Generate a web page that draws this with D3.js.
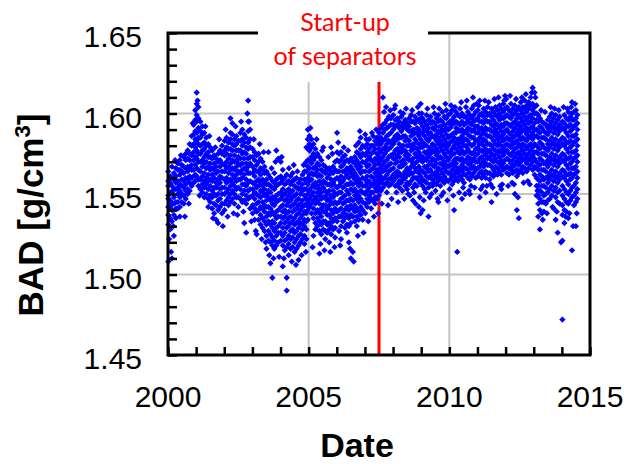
<!DOCTYPE html>
<html>
<head>
<meta charset="utf-8">
<script src="https://cdn.jsdelivr.net/npm/d3@7"></script>
<style>
  body { margin: 0; background: #fff; }
</style>
</head>
<body>
<div id="chart"></div>
<script>
// BAD readings, one row per sampling column:
// [fraction of the year, then values as thousandths above 1.500]
let bad2000 = [
  [0.01, 64, 58, 55, 49, 47, 42, 37, 31, 8], [0.08, 61, 57, 51, 46, 42, 35, 28],
  [0.14, 67, 60, 55, 51, 44, 40, 33, 10], [0.21, 63, 59, 53, 48, 44, 37, 24],
  [0.28, 66, 61, 57, 53, 45, 41, 35], [0.35, 69, 65, 58, 54, 50, 45, 41],
  [0.42, 71, 65, 62, 56, 52, 48, 42, 36], [0.49, 68, 64, 59, 55, 50, 45],
  [0.56, 73, 67, 63, 58, 54, 49, 44], [0.63, 75, 71, 66, 60, 56, 52, 47],
  [0.70, 77, 72, 67, 64, 59, 53, 50], [0.77, 81, 75, 71, 66, 61, 57, 52],
  [0.84, 86, 80, 74, 68, 65, 60, 55], [0.91, 93, 87, 81, 76, 71, 65, 61, 57],
  [0.97, 102, 96, 89, 84, 79, 73, 68, 62, 58]
]
let bad2001 = [
  [0.02, 113, 106, 99, 95, 88, 83, 77, 72, 66, 61], [0.08, 104, 97, 91, 85, 81, 75, 70, 65, 59, 55],
  [0.15, 95, 89, 85, 80, 75, 70, 64, 59, 53], [0.22, 92, 87, 81, 77, 71, 67, 61, 56, 51],
  [0.29, 88, 82, 78, 73, 69, 63, 58, 54, 48], [0.36, 85, 80, 75, 70, 66, 60, 56, 50],
  [0.43, 81, 76, 73, 67, 62, 58, 53, 47, 42], [0.50, 79, 73, 69, 65, 59, 55, 49, 45],
  [0.57, 77, 72, 66, 62, 58, 52, 48, 41], [0.64, 74, 69, 65, 60, 54, 50, 44, 38],
  [0.71, 72, 67, 63, 57, 54, 49, 43, 34], [0.78, 75, 70, 64, 59, 56, 50, 46, 40, 32],
  [0.85, 77, 71, 67, 61, 57, 53, 47, 42], [0.92, 80, 75, 69, 64, 60, 54, 50, 44, 38]
]
let bad2002 = [
  [0.01, 83, 77, 74, 68, 64, 59, 54, 50, 44, 40], [0.08, 85, 79, 75, 70, 66, 60, 57, 51, 46],
  [0.15, 82, 78, 72, 67, 63, 58, 53, 48, 43], [0.22, 97, 88, 84, 78, 74, 69, 65, 59, 55, 50, 45],
  [0.29, 94, 87, 81, 77, 71, 66, 62, 57, 52, 47], [0.36, 84, 80, 74, 70, 65, 60, 55, 50, 44],
  [0.43, 86, 81, 77, 71, 67, 62, 58, 53, 48], [0.50, 83, 77, 73, 69, 64, 59, 54, 48, 42],
  [0.57, 88, 83, 77, 72, 68, 63, 59, 53, 47], [0.64, 90, 84, 80, 75, 69, 65, 60, 56, 50, 45],
  [0.71, 87, 82, 76, 72, 66, 62, 56, 52, 46, 32], [0.78, 85, 79, 75, 69, 65, 59, 55, 49, 44, 26],
  [0.85, 108, 95, 89, 82, 78, 72, 67, 63, 57, 52, 47], [0.92, 90, 84, 79, 73, 69, 63, 58, 53, 48, 41]
]
let bad2003 = [
  [0.01, 78, 73, 67, 63, 57, 53, 49, 43, 38], [0.08, 76, 71, 65, 61, 56, 51, 47, 41, 34],
  [0.15, 74, 68, 64, 58, 54, 50, 44, 39, 25], [0.22, 75, 70, 64, 59, 55, 49, 45, 40, 34],
  [0.29, 72, 66, 62, 57, 52, 48, 42, 37, 31], [0.36, 70, 65, 59, 55, 51, 45, 41, 35, 29],
  [0.43, 67, 63, 57, 53, 49, 43, 39, 33, 27], [0.50, 64, 59, 56, 50, 46, 42, 36, 31, 24, 16],
  [0.57, 76, 62, 56, 52, 48, 42, 38, 33, 27, 21], [0.64, 60, 55, 51, 46, 41, 37, 31, 25, 20, 7],
  [0.71, 58, 54, 48, 44, 39, 33, 29, 23, 18, -2], [0.78, 63, 57, 53, 47, 43, 37, 32, 27, 21, 16],
  [0.85, 77, 59, 55, 49, 45, 39, 35, 29, 24, 18], [0.92, 72, 60, 56, 50, 46, 40, 36, 30, 26, 20]
]
let bad2004 = [
  [0.01, 70, 61, 57, 51, 47, 42, 36, 32, 26, 21], [0.08, 65, 59, 53, 49, 43, 39, 35, 29, 24, 18, 5],
  [0.15, 60, 56, 50, 46, 40, 36, 32, 26, 21, 15], [0.22, 62, 57, 52, 47, 43, 38, 33, 29, 22, 17, -2, -10],
  [0.29, 58, 53, 49, 45, 39, 35, 30, 24, 19, 12], [0.36, 61, 56, 51, 46, 42, 36, 32, 27, 22, 16],
  [0.43, 63, 58, 52, 48, 43, 39, 33, 28, 23, 17], [0.50, 59, 55, 49, 44, 40, 35, 31, 26, 20, 14],
  [0.57, 60, 54, 50, 46, 41, 37, 32, 27, 22, 16], [0.64, 57, 53, 47, 43, 38, 33, 29, 24, 18, 9],
  [0.71, 59, 54, 50, 44, 40, 35, 31, 25, 20], [0.78, 62, 56, 52, 46, 42, 37, 32, 28, 22],
  [0.85, 64, 59, 53, 49, 43, 39, 34, 30, 24, 19], [0.92, 79, 70, 64, 57, 53, 47, 43, 38, 33, 28, 22],
  [0.97, 90, 84, 78, 71, 67, 60, 56, 50, 45, 40, 34]
]
let bad2005 = [
  [0.03, 86, 81, 77, 71, 66, 62, 58, 52, 47, 42], [0.10, 84, 79, 73, 69, 63, 59, 54, 49, 44, 38],
  [0.17, 81, 75, 71, 66, 62, 56, 51, 46, 41, 35, 24], [0.24, 78, 73, 67, 63, 57, 54, 48, 44, 38, 32, 28],
  [0.31, 75, 69, 65, 61, 55, 51, 46, 40, 35, 30], [0.38, 73, 68, 62, 58, 53, 49, 44, 38, 33, 27, 13],
  [0.45, 71, 65, 61, 56, 51, 47, 41, 36, 31, 25], [0.52, 79, 68, 64, 58, 54, 48, 43, 39, 33, 28],
  [0.59, 67, 63, 57, 52, 48, 43, 39, 33, 27, 22], [0.66, 65, 60, 56, 50, 46, 41, 37, 31, 26],
  [0.73, 66, 62, 56, 52, 47, 43, 37, 32, 28, 20], [0.80, 79, 64, 59, 55, 49, 45, 40, 35, 30, 25],
  [0.87, 67, 63, 57, 52, 48, 44, 38, 33, 28], [0.94, 70, 65, 59, 55, 50, 45, 41, 35, 29, 23]
]
let bad2006 = [
  [0.01, 88, 76, 71, 64, 60, 54, 50, 44, 39, 33], [0.08, 75, 70, 64, 59, 55, 51, 45, 40, 36, 27],
  [0.15, 76, 71, 67, 61, 57, 51, 47, 41, 36, 30, 22], [0.22, 73, 68, 64, 58, 54, 48, 44, 38, 33],
  [0.29, 74, 70, 64, 60, 55, 49, 45, 40, 35, 29], [0.36, 71, 66, 62, 56, 52, 46, 42, 37, 31, 26],
  [0.43, 70, 65, 60, 56, 50, 46, 40, 35, 30, 20], [0.50, 72, 67, 63, 57, 53, 47, 43, 37, 32, 10],
  [0.57, 70, 65, 61, 56, 52, 46, 41, 36, 14], [0.64, 73, 69, 63, 59, 53, 49, 43, 39, 33],
  [0.71, 76, 71, 67, 61, 57, 51, 47, 41, 36, 30], [0.78, 82, 75, 69, 65, 59, 55, 49, 45, 39, 34],
  [0.85, 85, 78, 73, 67, 63, 57, 52, 47, 42, 37], [0.92, 80, 75, 70, 64, 60, 55, 51, 45, 40, 34]
]
let bad2007 = [
  [0.01, 87, 79, 74, 69, 64, 59, 55, 50, 44, 38], [0.08, 81, 76, 71, 67, 61, 57, 52, 47, 42],
  [0.15, 84, 78, 73, 68, 64, 58, 54, 49, 45], [0.22, 80, 75, 71, 65, 61, 56, 51, 47, 41],
  [0.29, 86, 80, 76, 70, 66, 60, 56, 51, 46], [0.36, 83, 78, 72, 68, 63, 58, 54, 48, 44],
  [0.43, 85, 81, 75, 71, 65, 61, 56, 52, 47], [0.50, 88, 83, 78, 73, 69, 63, 59, 54, 49],
  [0.57, 91, 85, 81, 76, 71, 66, 61, 57, 52], [0.64, 110, 93, 88, 83, 78, 73, 68, 64, 59, 54],
  [0.71, 94, 90, 84, 79, 75, 70, 65, 60, 56], [0.78, 96, 91, 86, 81, 77, 71, 67, 62, 57, 51],
  [0.85, 98, 92, 87, 83, 78, 73, 68, 64, 59, 55], [0.92, 97, 93, 88, 82, 79, 74, 69, 65, 60, 56]
]
let bad2008 = [
  [0.01, 99, 93, 90, 84, 81, 75, 72, 66, 62, 58], [0.08, 105, 96, 92, 86, 83, 77, 72, 69, 63, 60, 55],
  [0.15, 97, 93, 87, 84, 78, 74, 70, 64, 61, 56], [0.22, 95, 91, 85, 81, 76, 73, 67, 63, 58, 54],
  [0.29, 98, 92, 89, 85, 79, 76, 70, 67, 61, 57], [0.36, 100, 94, 91, 86, 80, 77, 71, 68, 62, 59],
  [0.43, 96, 92, 86, 83, 77, 74, 69, 64, 60, 55], [0.50, 94, 90, 84, 80, 75, 72, 66, 62, 57, 53],
  [0.57, 97, 92, 89, 83, 80, 74, 71, 65, 62, 56], [0.64, 99, 95, 89, 86, 80, 77, 71, 67, 63, 58],
  [0.71, 95, 90, 87, 81, 78, 72, 69, 63, 60, 54, 46], [0.78, 98, 94, 88, 84, 79, 75, 69, 66, 60, 56],
  [0.85, 96, 91, 88, 82, 78, 73, 70, 64, 60, 55], [0.92, 100, 96, 90, 86, 81, 76, 73, 67, 63, 58, 42],
  [0.98, 106, 97, 94, 88, 84, 79, 74, 71, 65, 61, 57, 38]
]
let bad2009 = [
  [0.05, 97, 92, 88, 82, 79, 73, 70, 64, 59, 55, 40], [0.12, 95, 90, 86, 81, 76, 72, 67, 63, 58, 53],
  [0.19, 99, 93, 89, 84, 80, 75, 71, 66, 61, 57], [0.26, 96, 91, 87, 83, 77, 73, 68, 64, 60, 54, 36],
  [0.33, 98, 94, 88, 85, 79, 75, 70, 65, 61, 56], [0.40, 95, 91, 86, 81, 77, 72, 68, 63, 59, 55],
  [0.47, 100, 94, 90, 85, 80, 76, 71, 67, 62, 57], [0.54, 97, 92, 87, 83, 78, 74, 69, 64, 60, 56],
  [0.61, 99, 95, 89, 85, 81, 76, 72, 66, 62, 58, 45], [0.68, 96, 92, 88, 83, 79, 73, 69, 65, 60, 55],
  [0.75, 101, 95, 90, 86, 81, 77, 72, 68, 63, 58], [0.82, 98, 93, 89, 84, 80, 75, 70, 66, 61, 57],
  [0.89, 102, 97, 91, 87, 82, 78, 73, 68, 64, 59], [0.96, 99, 94, 90, 85, 80, 76, 71, 67, 63, 58]
]
let bad2010 = [
  [0.03, 100, 95, 91, 86, 82, 76, 73, 68, 63, 59], [0.10, 102, 96, 93, 87, 83, 78, 75, 69, 65, 61, 56],
  [0.17, 98, 94, 88, 85, 80, 75, 71, 67, 62, 58, 40], [0.24, 101, 95, 91, 88, 82, 78, 72, 69, 64, 60],
  [0.28, 14], [0.31, 99, 94, 90, 84, 81, 76, 72, 66, 63, 58],
  [0.38, 103, 98, 93, 89, 84, 79, 75, 71, 66, 61], [0.45, 100, 95, 90, 86, 82, 77, 72, 68, 64, 59, 47],
  [0.52, 98, 93, 88, 84, 80, 75, 70, 66, 62, 57], [0.59, 104, 98, 94, 89, 84, 80, 76, 71, 66, 62],
  [0.66, 101, 96, 91, 87, 83, 78, 73, 69, 65, 60], [0.73, 99, 94, 90, 86, 81, 76, 72, 68, 63, 59, 50],
  [0.80, 103, 97, 93, 89, 85, 80, 75, 70, 66, 61], [0.87, 105, 99, 95, 90, 85, 81, 76, 72, 67, 63],
  [0.94, 101, 96, 92, 88, 83, 78, 74, 70, 65, 60]
]
let bad2011 = [
  [0.01, 102, 97, 92, 88, 83, 79, 75, 70, 66, 61], [0.08, 108, 99, 95, 90, 85, 81, 77, 72, 67, 63, 48],
  [0.15, 100, 95, 91, 87, 82, 77, 73, 69, 64, 60], [0.22, 103, 98, 94, 89, 84, 80, 76, 71, 67, 62],
  [0.29, 101, 96, 91, 87, 83, 78, 74, 69, 64, 60, 51], [0.36, 104, 99, 95, 90, 86, 81, 76, 72, 68, 63],
  [0.43, 100, 95, 90, 86, 81, 77, 73, 68, 63, 59], [0.50, 103, 98, 93, 89, 85, 80, 75, 71, 67, 62, 45],
  [0.57, 101, 96, 92, 88, 83, 78, 74, 70, 65, 61], [0.64, 104, 99, 94, 90, 86, 81, 77, 72, 67, 63],
  [0.71, 102, 98, 93, 88, 84, 80, 75, 70, 66, 62], [0.78, 105, 100, 96, 91, 86, 82, 77, 73, 69, 64],
  [0.85, 103, 98, 93, 89, 85, 80, 76, 71, 67, 62, 53], [0.92, 106, 101, 97, 92, 87, 83, 78, 74, 69, 65],
  [0.98, 111, 103, 98, 94, 89, 84, 80, 76, 71, 66]
]
let bad2012 = [
  [0.05, 104, 99, 94, 90, 85, 81, 77, 72, 67, 63], [0.12, 102, 98, 93, 88, 84, 80, 75, 71, 66, 62],
  [0.19, 106, 101, 97, 92, 87, 83, 79, 74, 69, 65], [0.26, 103, 99, 94, 89, 85, 81, 76, 71, 67, 63],
  [0.33, 105, 100, 95, 91, 86, 82, 78, 73, 68, 64, 50], [0.40, 102, 97, 93, 88, 83, 79, 75, 70, 65, 61, 40],
  [0.47, 104, 99, 94, 90, 86, 81, 76, 72, 68, 63, 35], [0.54, 107, 102, 97, 92, 88, 84, 79, 74, 70, 65],
  [0.61, 104, 100, 95, 90, 85, 81, 77, 72, 67, 63], [0.68, 108, 103, 98, 93, 89, 84, 80, 75, 71, 66],
  [0.75, 105, 101, 96, 91, 87, 83, 78, 73, 69, 64], [0.82, 107, 103, 98, 94, 89, 85, 80, 75, 71, 66],
  [0.89, 110, 105, 99, 95, 91, 86, 81, 77, 72, 68], [0.96, 116, 106, 102, 97, 92, 88, 84, 79, 74, 70, 65]
]
let bad2013 = [
  [0.03, 113, 104, 100, 94, 90, 86, 81, 76, 72, 67, 62], [0.10, 105, 100, 96, 90, 86, 80, 76, 70, 66, 60, 55, 49],
  [0.16, 99, 95, 89, 85, 79, 75, 69, 65, 59, 55, 49, 44, 36], [0.22, 97, 92, 88, 82, 78, 72, 68, 62, 58, 52, 47, 40, 28],
  [0.29, 95, 91, 85, 81, 75, 71, 65, 61, 55, 51, 45, 38], [0.36, 94, 89, 85, 79, 75, 69, 65, 59, 55, 49, 45, 39],
  [0.43, 93, 88, 84, 78, 74, 69, 64, 60, 54, 50, 44], [0.50, 96, 91, 87, 81, 77, 71, 67, 61, 57, 51, 46],
  [0.57, 98, 93, 89, 83, 79, 73, 69, 63, 59, 53, 47], [0.64, 100, 95, 91, 85, 81, 75, 71, 65, 61, 55, 49],
  [0.71, 97, 92, 88, 82, 78, 72, 68, 62, 58, 52, 41], [0.78, 99, 94, 90, 84, 80, 74, 70, 64, 60, 54, 48, 34],
  [0.85, 96, 91, 87, 81, 77, 71, 67, 61, 57, 51, 45, 26], [0.92, 98, 93, 89, 83, 79, 73, 69, 63, 59, 52, 44]
]
let bad2014 = [
  [0.02, 95, 91, 85, 81, 75, 71, 65, 61, 55, 49, 43, 37, 21, -28],
  [0.09, 99, 94, 90, 84, 80, 74, 70, 64, 60, 53, 47, 40, 32],
  [0.16, 97, 92, 88, 82, 78, 72, 68, 62, 58, 51, 45, 39],
  [0.23, 101, 96, 92, 86, 82, 76, 72, 66, 62, 56, 50, 44, 35],
  [0.30, 98, 93, 89, 83, 79, 73, 69, 63, 59, 52, 46],
  [0.36, 107, 100, 96, 90, 86, 80, 76, 70, 66, 60, 54, 48, 15],
  [0.43, 101, 96, 92, 86, 82, 76, 72, 66, 62, 55, 49, 43],
  [0.50, 102, 97, 93, 87, 83, 77, 73, 67, 63, 57, 51, 45, 30],
  [0.55, 99, 94, 90, 84, 80, 74, 70, 64, 60, 53, 47]
]

// scattered readings just outside the main band: [date, thousandths above 1.500]
let strays = [
  [2000.04, 22], [2000.11, 14], [2000.19, 30], [2000.25, 71], [2000.46, 74], [2000.60, 36], [2000.74, 44], [2000.88, 94],
  [2001.05, 108], [2001.12, 49], [2001.33, 92], [2001.47, 86], [2001.60, 35], [2001.68, 79], [2001.82, 84], [2001.95, 30],
  [2002.05, 90], [2002.12, 36], [2002.33, 38], [2002.40, 92], [2002.47, 37], [2002.60, 95], [2002.68, 39], [2002.82, 100],
  [2002.88, 95], [2002.96, 33],
  [2003.05, 84], [2003.12, 27], [2003.26, 81], [2003.33, 22], [2003.40, 76], [2003.47, 20], [2003.60, 12], [2003.68, 66],
  [2003.75, 10], [2003.82, 70], [2003.95, 11],
  [2004.04, 73], [2004.12, 10], [2004.30, 66], [2004.40, 8], [2004.47, 68], [2004.55, 6], [2004.60, 64], [2004.75, 12],
  [2004.82, 68], [2004.90, 14],
  [2005.06, 91], [2005.14, 17], [2005.28, 84], [2005.42, 19], [2005.48, 77], [2005.56, 15], [2005.70, 73], [2005.77, 14],
  [2005.84, 75], [2005.92, 17],
  [2006.05, 82], [2006.12, 18], [2006.25, 79], [2006.40, 77], [2006.47, 16], [2006.60, 8], [2006.68, 80], [2006.75, 24],
  [2006.82, 89], [2006.95, 26],
  [2007.05, 84], [2007.12, 33], [2007.25, 88], [2007.32, 36], [2007.40, 90], [2007.47, 38], [2007.60, 44], [2007.68, 101],
  [2007.75, 104], [2007.82, 43], [2007.90, 102], [2007.95, 47],
  [2008.05, 103], [2008.18, 45], [2008.26, 101], [2008.40, 47], [2008.46, 103], [2008.60, 49], [2008.68, 102], [2008.80, 44],
  [2008.88, 104], [2008.95, 48], [2008.12, 51], [2008.33, 52], [2008.54, 50], [2008.75, 51],
  [2009.02, 100], [2009.09, 46], [2009.22, 103], [2009.30, 48], [2009.44, 104], [2009.58, 47], [2009.64, 103], [2009.72, 49],
  [2009.86, 106], [2009.93, 46], [2009.16, 51], [2009.37, 50], [2009.51, 52], [2009.79, 51],
  [2010.06, 105], [2010.14, 49], [2010.20, 104], [2010.35, 51], [2010.42, 107], [2010.56, 50], [2010.62, 108], [2010.70, 52],
  [2010.84, 110], [2010.90, 54], [2010.97, 106], [2010.01, 53], [2010.49, 54], [2010.77, 55],
  [2011.05, 105], [2011.12, 53], [2011.26, 108], [2011.33, 55], [2011.40, 107], [2011.54, 54], [2011.60, 109], [2011.68, 50],
  [2011.75, 110], [2011.88, 56], [2011.95, 108], [2011.19, 55], [2011.47, 56], [2011.81, 55],
  [2012.02, 109], [2012.09, 55], [2012.16, 111], [2012.30, 56], [2012.37, 109], [2012.44, 48], [2012.58, 110], [2012.64, 57],
  [2012.72, 112], [2012.86, 56], [2012.93, 113], [2012.23, 57], [2012.79, 58],
  [2013.06, 110], [2013.13, 52], [2013.26, 102], [2013.32, 34], [2013.40, 101], [2013.47, 38], [2013.60, 104], [2013.67, 42],
  [2013.74, 103], [2013.82, 39], [2013.89, 102], [2013.97, 20],
  [2014.06, 104], [2014.13, 36], [2014.20, 103], [2014.27, 38], [2014.33, 104], [2014.40, 30], [2014.47, 106], [2014.53, 38]
]

let years = [2000, 2001, 2002, 2003, 2004, 2005, 2006, 2007, 2008, 2009, 2010, 2011, 2012, 2013, 2014]
let yearRows = [bad2000, bad2001, bad2002, bad2003, bad2004, bad2005, bad2006, bad2007,
  bad2008, bad2009, bad2010, bad2011, bad2012, bad2013, bad2014]

let xTickLabels = [2000, 2005, 2010, 2015]
let yTickLabels = [1.45, 1.5, 1.55, 1.6, 1.65]
let xGrid = [2005, 2010]
let yGrid = [1.5, 1.55, 1.6]
let separatorStart = 2007.5

// Set up margin/height/width
let margin = { top: 33, left: 168, right: 38, bottom: 109 }
let width = 628 - margin.left - margin.right
let height = 464 - margin.top - margin.bottom

let points = []
years.forEach((year, i) => {
  yearRows[i].forEach(row => {
    row.slice(1).forEach(v => points.push({ date: year + row[0], bad: 1.5 + v / 1000 }))
  })
})
strays.forEach(d => points.push({ date: d[0], bad: 1.5 + d[1] / 1000 }))

let xPositionScale = d3.scaleLinear().domain([2000, 2015]).range([0, width])
let yPositionScale = d3.scaleLinear().domain([1.45, 1.65]).range([height, 0])

let svg = d3
  .select('#chart')
  .append('svg')
  .attr('width', 628)
  .attr('height', 464)
  .append('g')
  .attr('transform', `translate(${margin.left},${margin.top})`)

// grid
svg
  .selectAll('.x-grid')
  .data(xGrid)
  .enter()
  .append('line')
  .attr('x1', d => xPositionScale(d))
  .attr('x2', d => xPositionScale(d))
  .attr('y1', 0)
  .attr('y2', height)
  .attr('stroke', '#c4c4c4')
  .attr('stroke-width', 2)

svg
  .selectAll('.y-grid')
  .data(yGrid)
  .enter()
  .append('line')
  .attr('x1', 0)
  .attr('x2', width)
  .attr('y1', d => yPositionScale(d))
  .attr('y2', d => yPositionScale(d))
  .attr('stroke', '#c4c4c4')
  .attr('stroke-width', 2)

// separator start-up
svg
  .append('line')
  .attr('x1', xPositionScale(separatorStart))
  .attr('x2', xPositionScale(separatorStart))
  .attr('y1', 0)
  .attr('y2', height)
  .attr('stroke', '#ff0000')
  .attr('stroke-width', 3)

let marker = d3.symbol().type(d3.symbolSquare).size(20)

svg
  .selectAll('.point')
  .data(points)
  .enter()
  .append('path')
  .attr('class', 'point')
  .attr('d', marker)
  .attr('transform', d => `translate(${xPositionScale(d.date)},${yPositionScale(d.bad)}) rotate(45)`)
  .attr('fill', '#0000ff')

// minor ticks, pointing inward
let xAxis = d3
  .axisBottom(xPositionScale)
  .tickValues(d3.range(2000, 2016))
  .tickSize(-8)
  .tickFormat('')
svg
  .append('g')
  .attr('class', 'axis x-axis')
  .attr('transform', `translate(0,${height})`)
  .call(xAxis)

let yAxis = d3
  .axisLeft(yPositionScale)
  .tickValues(d3.range(145, 166).map(d => d / 100))
  .tickSize(-9)
  .tickFormat('')
svg
  .append('g')
  .attr('class', 'axis y-axis')
  .call(yAxis)

svg.selectAll('.axis .domain').remove()
svg
  .selectAll('.axis line')
  .attr('stroke', '#000')
  .attr('stroke-width', 2.5)

// frame
svg
  .append('rect')
  .attr('width', width)
  .attr('height', height)
  .attr('fill', 'none')
  .attr('stroke', '#000')
  .attr('stroke-width', 3)

// gap for the note above the plot
svg
  .append('rect')
  .attr('x', 90)
  .attr('y', -margin.top)
  .attr('width', 170)
  .attr('height', margin.top + 49)
  .attr('fill', '#fff')

let note = svg
  .append('text')
  .attr('x', xPositionScale(separatorStart) - 34)
  .attr('text-anchor', 'middle')
  .attr('font-family', 'Lato, "Open Sans", sans-serif')
  .attr('font-size', 25)
  .attr('fill', '#ff0000')
note.append('tspan').attr('y', -2).text('Start-up')
note.append('tspan').attr('x', xPositionScale(separatorStart) - 34).attr('y', 32).text('of separators')

// tick labels
svg
  .selectAll('.x-label')
  .data(xTickLabels)
  .enter()
  .append('text')
  .attr('x', d => xPositionScale(d))
  .attr('y', height + 52)
  .attr('text-anchor', 'middle')
  .attr('font-family', '"Liberation Sans", Arial, sans-serif')
  .attr('font-size', 30)
  .text(d => d)

svg
  .selectAll('.y-label')
  .data(yTickLabels)
  .enter()
  .append('text')
  .attr('x', -26)
  .attr('y', d => yPositionScale(d) + 14)
  .attr('text-anchor', 'end')
  .attr('font-family', '"Liberation Sans", Arial, sans-serif')
  .attr('font-size', 30)
  .text(d => d3.format('.2f')(d))

// axis titles
svg
  .append('text')
  .attr('x', 189)
  .attr('y', height + 102)
  .attr('text-anchor', 'middle')
  .attr('font-family', '"Liberation Sans", Arial, sans-serif')
  .attr('font-weight', 'bold')
  .attr('font-size', 34)
  .text('Date')

let yTitle = svg
  .append('text')
  .attr('transform', `translate(${43 - margin.left},${215 - margin.top}) rotate(-90)`)
  .attr('text-anchor', 'middle')
  .attr('font-family', '"Liberation Sans", Arial, sans-serif')
  .attr('font-weight', 'bold')
  .attr('font-size', 35)
yTitle.append('tspan').text('BAD [g/cm')
yTitle.append('tspan').attr('font-size', 22).attr('dy', -13).text('3')
yTitle.append('tspan').attr('dy', 13).text(']')
</script>
</body>
</html>
